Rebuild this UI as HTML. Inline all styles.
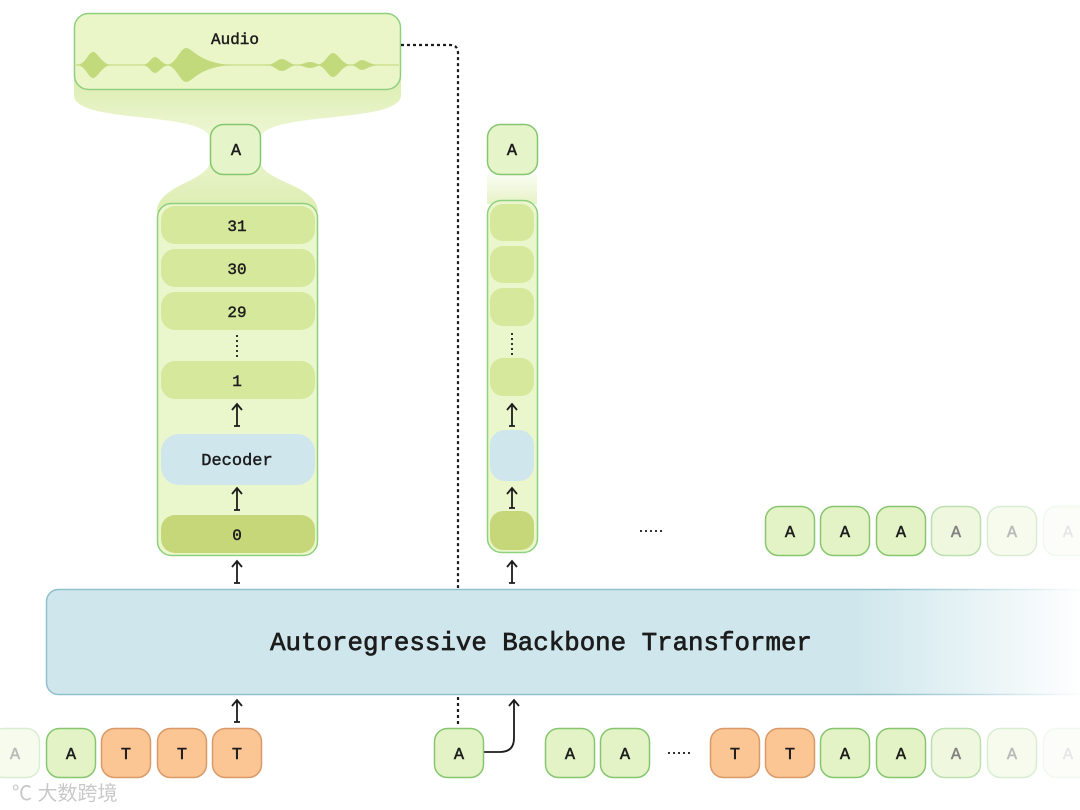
<!DOCTYPE html>
<html><head><meta charset="utf-8"><style>
html,body{margin:0;padding:0;background:#fff;width:1080px;height:810px;overflow:hidden}
svg{display:block}
text{font-family:"Liberation Mono",monospace;fill:#1c1c1c;stroke:#1c1c1c;stroke-width:0.45}
</style></head><body>
<svg width="1080" height="810" viewBox="0 0 1080 810" xmlns="http://www.w3.org/2000/svg">
<defs>
<linearGradient id="fun" x1="0" y1="0" x2="0" y2="1">
<stop offset="0" stop-color="#dcedb0"/><stop offset="0.45" stop-color="#eef7d6"/><stop offset="1" stop-color="#dcedb0"/>
</linearGradient>
<linearGradient id="tr" x1="0" y1="0" x2="1" y2="0">
<stop offset="0" stop-color="#cfe7ec"/><stop offset="0.78" stop-color="#cfe7ec"/><stop offset="1" stop-color="#cfe7ec" stop-opacity="0"/>
</linearGradient>
<linearGradient id="trs" x1="0" y1="0" x2="1" y2="0">
<stop offset="0" stop-color="#8fc0cc"/><stop offset="0.8" stop-color="#8fc0cc"/><stop offset="1" stop-color="#8fc0cc" stop-opacity="0"/>
</linearGradient>
<linearGradient id="rc" x1="0" y1="0" x2="0" y2="1">
<stop offset="0" stop-color="#e6f3c6" stop-opacity="0.2"/><stop offset="1" stop-color="#e6f3c6"/>
</linearGradient>
</defs>

<path d="M74 78 L74 95 C74 125 210 110 210 140 L210 160 C210 182 157 184 157 212 L318 212 C318 184 260 182 260 160 L260 140 C260 110 401 125 401 95 L401 78 Z" fill="url(#fun)"/>

<rect x="74.5" y="13.5" width="326" height="76" rx="14" fill="#eaf6c8" stroke="#8fcf7e" stroke-width="1.5"/>
<text x="235" y="44" font-size="16" text-anchor="middle">Audio</text>
<line x1="76" y1="65" x2="399" y2="65" stroke="#c6dc88" stroke-width="1.2"/>
<g fill="#c2d97c">
<path d="M76 65 C86 65 88 52 93 52 C98 52 102 65 112 65 C102 65 98 78 93 78 C88 78 86 65 76 65Z"/>
<path d="M142 65 C149 65 151 57 155 57 C159 57 162 65 170 65 C162 65 159 73 155 73 C151 73 149 65 142 65Z"/>
<path d="M166 65 C176 65 180 48 186 48 C193 48 198 63 232 65 C198 67 193 82 186 82 C180 82 176 65 166 65Z"/>
<path d="M266 65 C274 65 277 59 282 59 C287 59 290 65 298 65 C290 65 287 71 282 71 C277 71 274 65 266 65Z"/>
<path d="M296 65 C302 65 305 62 310 62 C315 62 318 65 322 65 C318 65 315 68 310 68 C305 68 302 65 296 65Z"/>
<path d="M316 65 C325 65 328 53 333 53 C338 53 342 65 352 65 C342 65 338 77 333 77 C328 77 325 65 316 65Z"/>
<path d="M350 65 C356 65 358 60 362 60 C366 60 370 65 380 65 C370 65 366 70 362 70 C358 70 356 65 350 65Z"/>
</g>

<rect x="210.5" y="124.5" width="50" height="50" rx="13" fill="#e6f4c9" stroke="#86c66e" stroke-width="1.5"/>
<text x="236" y="155" font-size="17" text-anchor="middle">A</text>

<rect x="157.5" y="203.5" width="160" height="352" rx="14" fill="#eaf6cc" stroke="#8fd07f" stroke-width="1.5"/>
<g fill="#d6e89c">
<rect x="161" y="206" width="154" height="38" rx="14"/>
<rect x="161" y="249" width="154" height="38" rx="14"/>
<rect x="161" y="292" width="154" height="38" rx="14"/>
<rect x="161" y="361" width="154" height="38" rx="14"/>
</g>
<rect x="161" y="434" width="154" height="51" rx="18" fill="#cfe7ec"/>
<rect x="161" y="515" width="154" height="38" rx="14" fill="#c6d77a"/>
<g font-size="16" text-anchor="middle">
<text x="237" y="231">31</text>
<text x="237" y="274">30</text>
<text x="237" y="317">29</text>
<text x="237" y="386">1</text>
<text x="237" y="465" font-size="17">Decoder</text>
<text x="237" y="540">0</text>
</g>
<line x1="237" y1="335" x2="237" y2="357" stroke="#333" stroke-width="2" stroke-dasharray="2 3"/>

<rect x="487" y="174" width="50" height="30" fill="url(#rc)"/>
<rect x="487.5" y="124.5" width="50" height="50" rx="13" fill="#e6f4c9" stroke="#86c66e" stroke-width="1.5"/>
<text x="512" y="155" font-size="17" text-anchor="middle">A</text>
<rect x="487.5" y="200.5" width="50" height="352" rx="14" fill="#eaf6cc" stroke="#8fd07f" stroke-width="1.5"/>
<g fill="#d6e89c">
<rect x="490" y="204" width="44" height="37" rx="13"/>
<rect x="490" y="246" width="44" height="37" rx="13"/>
<rect x="490" y="288" width="44" height="38" rx="13"/>
<rect x="490" y="358" width="44" height="38" rx="13"/>
</g>
<rect x="490" y="430" width="44" height="51" rx="15" fill="#cfe7ec"/>
<rect x="490" y="511" width="44" height="39" rx="13" fill="#c6d77a"/>
<line x1="512" y1="333" x2="512" y2="355" stroke="#333" stroke-width="2" stroke-dasharray="2 3"/>

<g stroke="#1c1c1c" stroke-width="1.8" fill="none">
<path d="M237 426 V405 M232 410 L237 404 L242 410 M234 426 H240"/>
<path d="M237 510 V489 M232 494 L237 488 L242 494 M234 510 H240"/>
<path d="M237 583 V562 M232 567 L237 561 L242 567 M234 583 H240"/>
<path d="M512 426 V405 M507 410 L512 404 L517 410 M509 426 H515"/>
<path d="M512 508 V489 M507 494 L512 488 L517 494 M509 508 H515"/>
<path d="M512 583 V562 M507 567 L512 561 L517 567 M509 583 H515"/>
<path d="M237 722 V701 M232 706 L237 700 L242 706 M234 722 H240"/>
<path d="M484 752 H500 Q514 752 514 738 V701 M509 706 L514 700 L519 706"/>
</g>

<path d="M401 45 H450 Q458 45 458 53 V588 M458 697 V727" stroke="#1c1c1c" stroke-width="2.2" stroke-dasharray="3 3" fill="none"/>

<rect x="46.5" y="589.5" width="1040" height="105" rx="12" fill="url(#tr)" stroke="url(#trs)" stroke-width="1.5"/>
<text x="541" y="650" font-size="25.8" text-anchor="middle" style="stroke-width:0.7">Autoregressive Backbone Transformer</text>

<line x1="640" y1="531" x2="663" y2="531" stroke="#333" stroke-width="2" stroke-dasharray="2 3"/>
<line x1="668" y1="753" x2="691" y2="753" stroke="#333" stroke-width="2" stroke-dasharray="2 3"/>

<g font-size="17" text-anchor="middle">
<g><rect x="765.5" y="506.5" width="49" height="49" rx="13" fill="#e3f3c6" stroke="#86c66e" stroke-width="1.5"/><text x="790" y="537">A</text></g>
<g><rect x="820.5" y="506.5" width="49" height="49" rx="13" fill="#e3f3c6" stroke="#86c66e" stroke-width="1.5"/><text x="845" y="537">A</text></g>
<g><rect x="876.5" y="506.5" width="49" height="49" rx="13" fill="#e3f3c6" stroke="#86c66e" stroke-width="1.5"/><text x="901" y="537">A</text></g>
<g opacity="0.55"><rect x="931.5" y="506.5" width="49" height="49" rx="13" fill="#e3f3c6" stroke="#86c66e" stroke-width="1.5"/><text x="956" y="537">A</text></g>
<g opacity="0.3"><rect x="987.5" y="506.5" width="49" height="49" rx="13" fill="#e3f3c6" stroke="#86c66e" stroke-width="1.5"/><text x="1012" y="537">A</text></g>
<g opacity="0.1"><rect x="1043.5" y="506.5" width="49" height="49" rx="13" fill="#e3f3c6" stroke="#86c66e" stroke-width="1.5"/><text x="1068" y="537">A</text></g>

<g opacity="0.3"><rect x="-9.5" y="728.5" width="49" height="49" rx="13" fill="#e3f3c6" stroke="#86c66e" stroke-width="1.5"/><text x="15" y="759">A</text></g>
<g><rect x="46.5" y="728.5" width="49" height="49" rx="13" fill="#e3f3c6" stroke="#86c66e" stroke-width="1.5"/><text x="71" y="759">A</text></g>
<g><rect x="101.5" y="728.5" width="49" height="49" rx="13" fill="#fbc594" stroke="#d99a68" stroke-width="1.5"/><text x="126" y="759">T</text></g>
<g><rect x="157.5" y="728.5" width="49" height="49" rx="13" fill="#fbc594" stroke="#d99a68" stroke-width="1.5"/><text x="182" y="759">T</text></g>
<g><rect x="212.5" y="728.5" width="49" height="49" rx="13" fill="#fbc594" stroke="#d99a68" stroke-width="1.5"/><text x="237" y="759">T</text></g>

<g><rect x="434.5" y="728.5" width="49" height="49" rx="13" fill="#e3f3c6" stroke="#86c66e" stroke-width="1.5"/><text x="459" y="759">A</text></g>

<g><rect x="545.5" y="728.5" width="49" height="49" rx="13" fill="#e3f3c6" stroke="#86c66e" stroke-width="1.5"/><text x="570" y="759">A</text></g>
<g><rect x="600.5" y="728.5" width="49" height="49" rx="13" fill="#e3f3c6" stroke="#86c66e" stroke-width="1.5"/><text x="625" y="759">A</text></g>
<g><rect x="710.5" y="728.5" width="49" height="49" rx="13" fill="#fbc594" stroke="#d99a68" stroke-width="1.5"/><text x="735" y="759">T</text></g>
<g><rect x="765.5" y="728.5" width="49" height="49" rx="13" fill="#fbc594" stroke="#d99a68" stroke-width="1.5"/><text x="790" y="759">T</text></g>
<g><rect x="820.5" y="728.5" width="49" height="49" rx="13" fill="#e3f3c6" stroke="#86c66e" stroke-width="1.5"/><text x="845" y="759">A</text></g>
<g><rect x="876.5" y="728.5" width="49" height="49" rx="13" fill="#e3f3c6" stroke="#86c66e" stroke-width="1.5"/><text x="901" y="759">A</text></g>
<g opacity="0.55"><rect x="931.5" y="728.5" width="49" height="49" rx="13" fill="#e3f3c6" stroke="#86c66e" stroke-width="1.5"/><text x="956" y="759">A</text></g>
<g opacity="0.3"><rect x="987.5" y="728.5" width="49" height="49" rx="13" fill="#e3f3c6" stroke="#86c66e" stroke-width="1.5"/><text x="1012" y="759">A</text></g>
<g opacity="0.1"><rect x="1043.5" y="728.5" width="49" height="49" rx="13" fill="#e3f3c6" stroke="#86c66e" stroke-width="1.5"/><text x="1068" y="759">A</text></g>
</g>

<text x="12" y="800" font-size="20" style="font-family:'Liberation Sans','Noto Sans CJK SC',sans-serif;fill:#c8c8c8;stroke:none">℃ 大数跨境</text>
</svg>
</body></html>
